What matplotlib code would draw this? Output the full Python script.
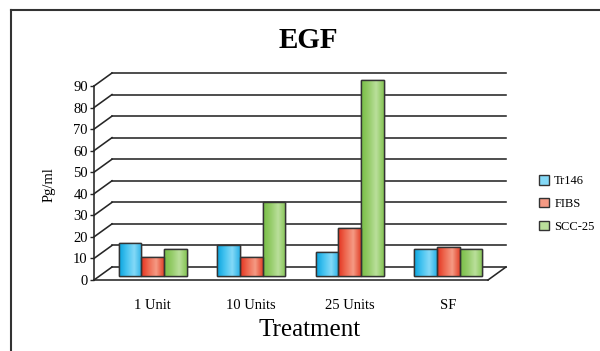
import matplotlib
matplotlib.use("Agg")
from matplotlib import pyplot as plt
from matplotlib.transforms import ScaledTranslation
from matplotlib.colors import LinearSegmentedColormap
from matplotlib.patches import Patch
import numpy as np

plt.rcParams['font.family'] = ['Liberation Serif', 'DejaVu Serif']

# data
treatments = ["1 Unit", "10 Units", "25 Units", "SF"]
tr146 = [15.5, 14.5, 11.3, 12.4]
fibs = [8.7, 8.7, 22.4, 13.3]
scc25 = [12.7, 34.2, 90.8, 12.7]
series_names = ["Tr146", "FIBS", "SCC-25"]
yticks = list(range(0, 100, 10))

# gradient stops: edge, light, edge
grads = [["#0AA4DE", "#45C3F0", "#84D9F7", "#2CB2E6"],
         ["#E4331F", "#EE6A52", "#F59A84", "#E2432C"],
         ["#78BE46", "#95CC69", "#BADF9B", "#86C555"]]
edge = "#333333"

fig = plt.figure(figsize=(6, 3.51), dpi=100)
W, H = 600, 351
ax = fig.add_axes([94 / W, (H - 280) / H, 394 / W, 194 / H])
ax.set_xlim(-0.5, len(treatments) - 0.5)
ax.set_ylim(0, 90)

# depth offsets (inches)
back = ScaledTranslation(0.18, 0.13, fig.dpi_scale_trans)
mid = ScaledTranslation(0.095, 0.04, fig.dpi_scale_trans)
# same depth in data units for the side lines
ax_w_in = 394 / 100
ax_h_in = 194 / 100
ddx = 0.18 / ax_w_in * len(treatments)
ddy = 0.13 / ax_h_in * 90

# back wall gridlines and side diagonals
x0, x1 = -0.5, len(treatments) - 0.5
for v in yticks:
    ax.plot([x0, x1], [v, v], color="#262626", lw=1.15, transform=ax.transData + back, clip_on=False)
    ax.plot([x0, x0 + ddx], [v, v + ddy], color="#262626", lw=1.15, clip_on=False)
# floor right edge
ax.plot([x1, x1 + ddx], [0, ddy], color="#262626", lw=1.15, clip_on=False)

# bars
bw = 0.23
x = np.arange(len(treatments))
for i, vals in enumerate([tr146, fibs, scc25]):
    bars = ax.bar(x + (i - 1) * bw, vals, bw, color=grads[i][1], edgecolor=edge, lw=1.0,
                  transform=ax.transData + mid, clip_on=False, zorder=3, label=series_names[i])
    cmap = LinearSegmentedColormap.from_list("g%d" % i, grads[i])
    grad = np.linspace(0, 1, 64).reshape(1, -1)
    for b in bars:
        bx, by = b.get_x(), b.get_y()
        im = ax.imshow(grad, cmap=cmap, aspect="auto", extent=[bx, bx + b.get_width(), by, by + b.get_height()],
                       transform=ax.transData + mid, zorder=3.5, interpolation="bilinear")
        im.set_clip_path(b)
        b2 = plt.Rectangle((bx, by), b.get_width(), b.get_height(), fill=False, edgecolor=edge, lw=1.0,
                           transform=ax.transData + mid, zorder=4, clip_on=False)
        ax.add_patch(b2)
ax.set_xlim(-0.5, len(treatments) - 0.5)
ax.set_ylim(0, 90)

# axes styling
for s in ["top", "right"]:
    ax.spines[s].set_visible(False)
for s in ["left", "bottom"]:
    ax.spines[s].set_color("#262626")
    ax.spines[s].set_linewidth(1.15)
ax.set_yticks(yticks)
ax.tick_params(axis="y", length=3, width=1.0, color="#262626", labelsize=10.5, pad=1.5)
ax.set_xticks(x)
ax.set_xticklabels(treatments)
ax.tick_params(axis="x", length=0, labelsize=10.5, pad=14)
for lbl in ax.get_xticklabels():
    lbl.set_transform(lbl.get_transform() + ScaledTranslation(0.095, 0, fig.dpi_scale_trans))
ax.patch.set_visible(False)

fig.text(308 / W, 1 - 40 / H, "EGF", fontsize=21, fontweight="bold", ha="center", va="center")
fig.text(310 / W, 1 - 330 / H, "Treatment", fontsize=18, ha="center", va="center")
fig.text(49 / W, 1 - 185 / H, "Pg/ml", fontsize=10.5, rotation=90, ha="center", va="center")

handles = [Patch(facecolor=grads[i][2], edgecolor=edge, lw=1.0) for i in range(3)]
fig.legend(handles, series_names, loc="center left", bbox_to_anchor=(528 / W, 1 - 204 / H), frameon=False,
           fontsize=9, handlelength=0.75, handleheight=0.75, handletextpad=0.45, labelspacing=0.85)

# outer border (left and top only)
fig.add_artist(plt.Line2D([11 / W, 11 / W], [0, 1 - 10 / H], color="#333333", lw=1.5))
fig.add_artist(plt.Line2D([11 / W, 1], [1 - 10 / H, 1 - 10 / H], color="#333333", lw=1.5))

fig.savefig("out.png", dpi=100)
